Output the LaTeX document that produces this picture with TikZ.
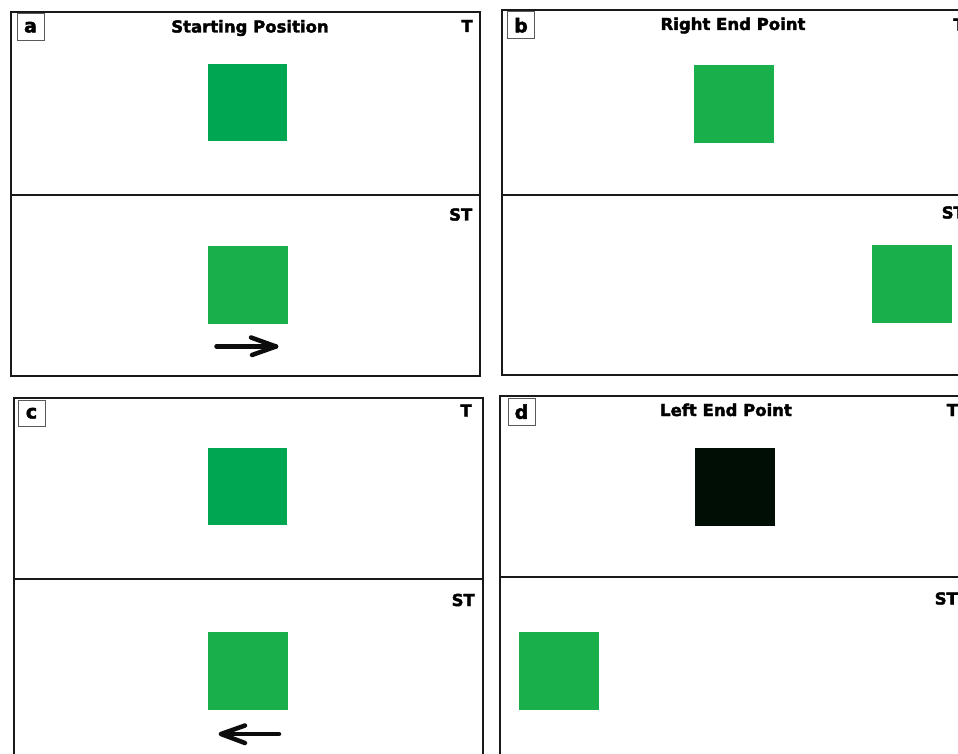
\documentclass[tikz,border=0pt]{standalone}
\usepackage{fontspec}
\setmainfont{DejaVu Sans}[BoldFeatures={FakeBold=2.2}]
\definecolor{gdark}{RGB}{0,166,81}
\definecolor{glight}{RGB}{25,176,75}
\definecolor{sqblack}{RGB}{0,14,6}
\definecolor{frame}{RGB}{25,25,25}
\begin{document}
\begin{tikzpicture}[x=1pt,y=-1pt,
  panel/.style={draw=frame,line width=2pt},
  divider/.style={draw=frame,line width=2pt},
  tag/.style={draw=black!65,line width=1pt,minimum width=27pt,minimum height=26.5pt,inner sep=0pt,anchor=north west,font=\fontsize{19}{19}\selectfont\bfseries},
  ttl/.style={font=\fontsize{16.5}{16.5}\selectfont\bfseries,inner sep=0pt},
  sq/.style={minimum width=80pt,minimum height=78pt,inner sep=0pt,anchor=north west},
  arr/.style={draw=black!95,line width=4.5pt,line cap=round,line join=round}
]
\useasboundingbox (0,0) rectangle (958,754);
\clip (0,0) rectangle (958,754);
\fill[white] (0,0) rectangle (958,754);

% ---------- panel a ----------
\draw[panel] (11,12.5) rectangle (480,375.5);
\draw[divider] (11,195) -- (480,195);
\node[tag] (ta) at (16.5,13.5) {a};
\node[ttl,anchor=base] (titleA) at (250,32.5) {Starting Position};
\node[ttl,anchor=base east] (Ta) at (473,32) {T};
\node[ttl,anchor=base east] (STa) at (472.5,220.5) {ST};
\node[sq,fill=gdark,minimum width=79pt,minimum height=77pt] (aTop) at (208,64) {};
\node[sq,fill=glight] (aBot) at (208,246) {};
\coordinate (aS) at (216.5,346.5);
\coordinate (aE) at (276,346.5);
\coordinate (aH1) at (251,337.5);
\coordinate (aH2) at (252,355);
\draw[arr] (aS) -- (aE);
\draw[arr] (aH1) -- (aE) -- (aH2);

% ---------- panel b ----------
\draw[panel] (501.5,10.5) rectangle (990,374.5);
\draw[divider] (501.5,195) -- (990,195);
\node[tag] (tb) at (507,11.5) {b};
\node[ttl,anchor=base] (titleB) at (733,30) {Right End Point};
\node[ttl,anchor=base west] (Tb) at (953,30.5) {T};
\node[ttl,anchor=base west] (STb) at (941.5,218.5) {ST};
\node[sq,fill=glight] (bTop) at (694,65) {};
\node[sq,fill=glight] (bBot) at (872,245) {};

% ---------- panel c ----------
\draw[panel] (13.5,397.5) rectangle (482.5,800);
\draw[divider] (13.5,579) -- (482.5,579);
\node[tag] (tc) at (17.5,399.5) {c};
\node[ttl,anchor=base east] (Tc) at (472,416.5) {T};
\node[ttl,anchor=base east] (STc) at (475,606) {ST};
\node[sq,fill=gdark,minimum width=79pt,minimum height=77pt] (cTop) at (208,448) {};
\node[sq,fill=glight] (cBot) at (208,632) {};
\coordinate (cS) at (279,734);
\coordinate (cE) at (221,734);
\coordinate (cH1) at (245,725.5);
\coordinate (cH2) at (245,743);
\draw[arr] (cS) -- (cE);
\draw[arr] (cH1) -- (cE) -- (cH2);

% ---------- panel d ----------
\draw[panel] (500,395.5) rectangle (990,800);
\draw[divider] (500,577) -- (990,577);
\node[tag] (td) at (507.5,398) {d};
\node[ttl,anchor=base] (titleD) at (726,416) {Left End Point};
\node[ttl,anchor=base west] (Td) at (946.5,416) {T};
\node[ttl,anchor=base west] (STd) at (934.5,604.5) {ST};
\node[sq,fill=sqblack] (dTop) at (695,448) {};
\node[sq,fill=glight] (dBot) at (518.5,632) {};
\end{tikzpicture}
\end{document}
